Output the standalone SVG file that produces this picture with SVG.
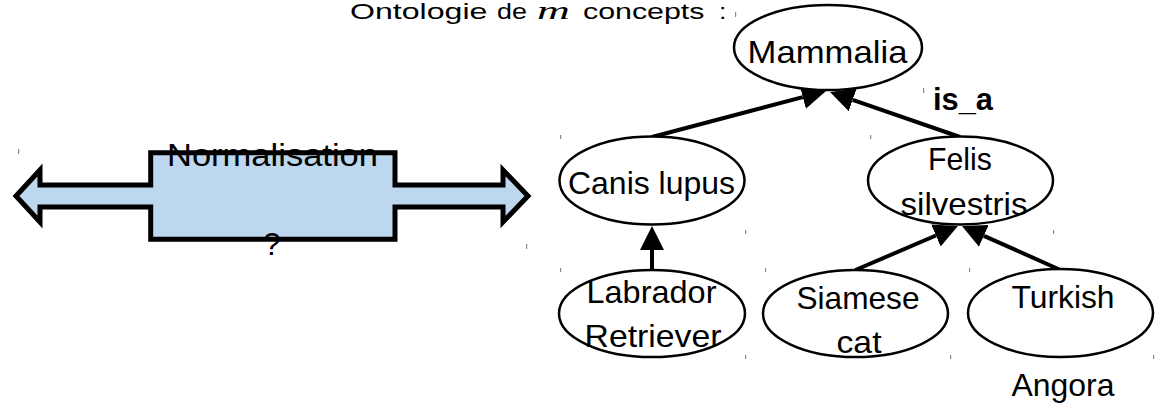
<svg xmlns="http://www.w3.org/2000/svg" width="1159" height="407" viewBox="0 0 1159 407">
  <style>
    .lbl { font-family: "Liberation Sans", Arial, sans-serif; font-size: 32px; fill: #000; text-anchor: middle; }
    .ttl { font-family: "Liberation Sans", Arial, sans-serif; font-size: 22px; fill: #000; }
    .node ellipse { fill: #fff; stroke: #000; stroke-width: 2.5; }
    .edge { fill: none; stroke: #000; stroke-width: 4; marker-end: url(#tri); }
    .tick { fill: #8a8a8a; }
  </style>
  <defs>
    <marker id="tri" markerUnits="userSpaceOnUse" viewBox="0 -12 24 24" refX="0" refY="0" markerWidth="24" markerHeight="24" orient="auto">
      <path d="M0,-12 L24,0 L0,12 Z" fill="#000"/>
    </marker>
  </defs>

  <rect width="1159" height="407" fill="#fff"/>

  <!-- small corner ticks of text frames -->
  <g id="ticks">
    <rect class="tick" x="18" y="149" width="1.2" height="5"/>
    <rect class="tick" x="526" y="244" width="1.2" height="5"/>
    <rect class="tick" x="735" y="12" width="1.2" height="5"/>
    <rect class="tick" x="923" y="88" width="1.2" height="5"/>
    <rect class="tick" x="870" y="135" width="1.2" height="4"/>
    <rect class="tick" x="560" y="135" width="1.2" height="4"/>
    <rect class="tick" x="745" y="230" width="1.2" height="4"/>
    <rect class="tick" x="1053" y="230" width="1.2" height="4"/>
    <rect class="tick" x="560" y="268" width="1.2" height="4"/>
    <rect class="tick" x="765" y="268" width="1.2" height="4"/>
    <rect class="tick" x="969" y="268" width="1.2" height="4"/>
    <rect class="tick" x="745" y="355" width="1.2" height="4"/>
    <rect class="tick" x="950" y="355" width="1.2" height="4"/>
    <rect class="tick" x="1153" y="355" width="1.2" height="4"/>
  </g>

  <!-- title: Ontologie de m concepts : (wide-set words) -->
  <g id="title">
    <text class="ttl" transform="translate(350,18.5) scale(1.46,1)">Ontologie</text>
    <text class="ttl" transform="translate(497,18.5) scale(1.22,1)">de</text>
    <text transform="translate(537,18.5) scale(1.75,1)" font-family="'Liberation Serif', 'Times New Roman', serif" font-style="italic" font-size="26" fill="#000">m</text>
    <text class="ttl" transform="translate(583,18.5) scale(1.38,1)">concepts</text>
    <text class="ttl" transform="translate(719,18.5) scale(1.2,1)">:</text>
  </g>

  <!-- double arrow with box -->
  <g id="normalisation">
    <path d="M16,196 L40,170 L40,185 L150.7,185 L150.7,152.7 L395,152.7 L395,185 L503,185 L503,170 L528,196 L503,222 L503,207 L395,207 L395,239.3 L150.7,239.3 L150.7,207 L40,207 L40,222 Z" fill="#BDD7EE" stroke="#000" stroke-width="5" stroke-linejoin="miter"/>
    <text class="lbl" x="272.5" y="166" textLength="211" lengthAdjust="spacingAndGlyphs">Normalisation</text>
    <text class="lbl" x="272" y="255">?</text>
  </g>

  <!-- is_a edges -->
  <g id="connectors">
    <path class="edge" d="M652,137 L802.8,97.1"/>
    <path class="edge" d="M960,137 L852.7,99.9"/>
    <path class="edge" d="M652,270 L652,250"/>
    <path class="edge" d="M855.5,270 L935.9,235.5"/>
    <path class="edge" d="M1060.5,270 L983.9,235.8"/>
  </g>

  <g id="is_a_label">
    <text x="963" y="110" font-family="'Liberation Sans', Arial, sans-serif" font-size="31" font-weight="bold" text-anchor="middle" textLength="60" lengthAdjust="spacingAndGlyphs">is_a</text>
  </g>

  <g id="mammalia" class="node">
    <ellipse cx="828" cy="47.5" rx="94" ry="42.5"/>
    <text class="lbl" x="827.5" y="63" textLength="160" lengthAdjust="spacingAndGlyphs">Mammalia</text>
  </g>

  <g id="canis-lupus" class="node">
    <ellipse cx="652" cy="180.5" rx="92.5" ry="44"/>
    <text class="lbl" x="651.5" y="194" textLength="167" lengthAdjust="spacingAndGlyphs">Canis lupus</text>
  </g>

  <g id="felis-silvestris" class="node">
    <ellipse cx="960.5" cy="180.5" rx="92.5" ry="44"/>
    <text class="lbl" x="960" y="170" textLength="64" lengthAdjust="spacingAndGlyphs">Felis</text>
    <text class="lbl" x="964" y="215" textLength="127" lengthAdjust="spacingAndGlyphs">silvestris</text>
  </g>

  <g id="labrador-retriever" class="node">
    <ellipse cx="652" cy="313.5" rx="93" ry="43.5"/>
    <text class="lbl" x="651.5" y="303" textLength="130" lengthAdjust="spacingAndGlyphs">Labrador</text>
    <text class="lbl" x="653" y="347" textLength="137" lengthAdjust="spacingAndGlyphs">Retriever</text>
  </g>

  <g id="siamese-cat" class="node">
    <ellipse cx="855.5" cy="313.5" rx="92.5" ry="43.5"/>
    <text class="lbl" x="858" y="308.5" textLength="123" lengthAdjust="spacingAndGlyphs">Siamese</text>
    <text class="lbl" x="859" y="353" textLength="45" lengthAdjust="spacingAndGlyphs">cat</text>
  </g>

  <g id="turkish-angora" class="node">
    <ellipse cx="1060.5" cy="313" rx="92.5" ry="44"/>
    <text class="lbl" x="1063" y="307.5" textLength="103" lengthAdjust="spacingAndGlyphs">Turkish</text>
    <text class="lbl" x="1063" y="396" textLength="103" lengthAdjust="spacingAndGlyphs">Angora</text>
  </g>
</svg>
